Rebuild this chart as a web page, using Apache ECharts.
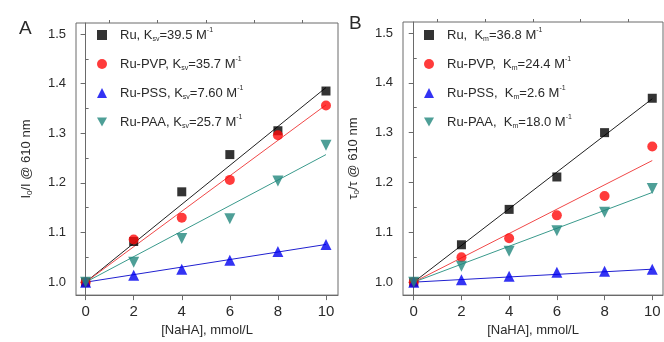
<!DOCTYPE html>
<html>
<head>
<meta charset="utf-8">
<script src="https://cdn.jsdelivr.net/npm/echarts@6/dist/echarts.min.js"></script>
<title>Stern-Volmer</title>
</head>
<body style="margin:0">
<div id="container" style="width:664px;height:342px;"></div>
<script>
// concentrations, mmol/L
var conc = [0, 2, 4, 6, 8, 10];

// panel A: I0/I
var iRu  = [1.0, 1.082, 1.182, 1.257, 1.305, 1.385];
var iPVP = [1.0, 1.086, 1.130, 1.206, 1.296, 1.356];
var iPSS = [1.0, 1.014, 1.026, 1.044, 1.062, 1.076];
var iPAA = [1.0, 1.040, 1.088, 1.128, 1.204, 1.276];
// panel B: tau0/tau
var tRu  = [1.0, 1.075, 1.146, 1.211, 1.300, 1.369];
var tPVP = [1.0, 1.050, 1.088, 1.134, 1.173, 1.272];
var tPSS = [1.0, 1.005, 1.012, 1.020, 1.022, 1.026];
var tPAA = [1.0, 1.032, 1.062, 1.103, 1.140, 1.188];

// fitted lines, value at 0 and at 10 mmol/L
var fitStart = 1.0;
var fitEndA = [1.392, 1.357, 1.076, 1.257];
var fitEndB = [1.368, 1.244, 1.026, 1.180];

var names = ['Ru', 'Ru-PVP', 'Ru-PSS', 'Ru-PAA'];
var kA = ['39.5', '35.7', '7.60', '25.7'];
var kB = ['36.8', '24.4', '2.6', '18.0'];

var xMajor = [0, 2, 4, 6, 8, 10];
var xMinor = [1, 3, 5, 7, 9];
var yMajor = [1.0, 1.1, 1.2, 1.3, 1.4, 1.5];
var yMinor = [1.05, 1.15, 1.25, 1.35, 1.45];

var colors = ['#000000', '#ff0a0a', '#0000f0', '#22877d'];
var lineColors = ['#202020', '#f04848', '#2020d0', '#3a9a8c'];
var symbols = ['rect', 'circle', 'triangle', 'triangle'];
var rotates = [0, 0, 0, 180];
var legendIcons = ['rect', 'circle', 'triangle', 'path://M0,0 L10,0 L5,9 Z'];

var font = 'Arial, "Liberation Sans", sans-serif';
var axisGray = '#6a6a6a';
var textCol = '#2a2a2a';

var myChart = echarts.init(document.getElementById('container'));

function pairs(ys) {
    return conc.map(function (x, i) { return [x, ys[i]]; });
}

function xAxes(g) {
    return [{
        gridIndex: g, type: 'value', min: g ? -0.45 : -0.4, max: g ? 10.45 : 10.5,
        name: '[NaHA], mmol/L', nameLocation: 'middle', nameGap: 25,
        nameTextStyle: { fontFamily: font, fontSize: 13, color: textCol },
        axisLine: { show: true, lineStyle: { color: axisGray } },
        axisTick: { show: true, length: 5, customValues: xMajor, lineStyle: { color: axisGray } },
        axisLabel: { customValues: xMajor, margin: 9, fontFamily: font, fontSize: 15, color: textCol },
        splitLine: { show: false }
    }, {
        gridIndex: g, type: 'value', min: g ? -0.45 : -0.4, max: g ? 10.45 : 10.5,
        axisLine: { show: false },
        axisTick: { show: true, length: 3, customValues: xMinor, lineStyle: { color: axisGray } },
        axisLabel: { show: false },
        splitLine: { show: false }
    }];
}

function yAxes(g, title) {
    return [{
        gridIndex: g, type: 'value', min: 0.974, max: 1.522,
        name: title, nameLocation: 'middle', nameRotate: 90, nameGap: g ? 42 : 42,
        nameTextStyle: {
            fontFamily: font, fontSize: 13, color: textCol,
            rich: {
                t: { fontFamily: font, fontSize: 13, color: textCol, lineHeight: 16 },
                s: { fontFamily: font, fontSize: 8, color: textCol, lineHeight: 9, verticalAlign: 'bottom' }
            }
        },
        axisLine: { show: true, lineStyle: { color: axisGray } },
        axisTick: { show: true, length: 5, customValues: yMajor, lineStyle: { color: axisGray } },
        axisLabel: {
            customValues: yMajor, margin: 10, fontFamily: font, fontSize: 13, color: textCol,
            formatter: function (v) { return v.toFixed(1); }
        },
        splitLine: { show: false }
    }, {
        gridIndex: g, type: 'value', min: 0.974, max: 1.522,
        axisLine: { show: false },
        axisTick: { show: true, length: 3, customValues: yMinor, lineStyle: { color: axisGray } },
        axisLabel: { show: false },
        splitLine: { show: false }
    }];
}

var series = [];
function addPanel(g, sets, ends, tag) {
    sets.forEach(function (ys, i) {
        series.push({
            type: 'line', xAxisIndex: g * 2, yAxisIndex: g * 2,
            data: [[0, fitStart], [10, ends[i]]],
            showSymbol: false, silent: true,
            lineStyle: { color: lineColors[i], width: 1 }, z: 2
        });
    });
    sets.forEach(function (ys, i) {
        series.push({
            name: tag + names[i], type: 'scatter', xAxisIndex: g * 2, yAxisIndex: g * 2,
            data: pairs(ys), symbol: symbols[i], symbolRotate: rotates[i],
            symbolSize: i === 0 ? 9 : (i === 1 ? 10 : 11),
            itemStyle: { color: colors[i] }, z: 3
        });
    });
}
addPanel(0, [iRu, iPVP, iPSS, iPAA], fitEndA, 'A:');
addPanel(1, [tRu, tPVP, tPSS, tPAA], fitEndB, 'B:');

var legendRich = {
    g: { width: 8, lineHeight: 16 },
    t: { fontFamily: font, fontSize: 13, color: textCol, lineHeight: 16 },
    s: { fontFamily: font, fontSize: 7, color: textCol, lineHeight: 8, verticalAlign: 'bottom' },
    p: { fontFamily: font, fontSize: 7, color: textCol, lineHeight: 8, verticalAlign: 'top' }
};

function legendFor(tag, ks, sub, sep, left) {
    return {
        orient: 'vertical', left: left, top: 22, itemGap: 13,
        itemWidth: 10, itemHeight: 10,
        data: names.map(function (n, i) { return { name: tag + n, icon: legendIcons[i] }; }),
        formatter: function (name) {
            var i = names.indexOf(name.slice(2));
            return '{g|}{t|' + names[i] + ',' + sep + 'K}{s|' + sub + '}{t|=' + ks[i] + ' M}{p|-1}';
        },
        textStyle: { rich: legendRich },
        selectedMode: false
    };
}

var option = {
    animation: false,
    grid: [
        { left: 76, top: 23, width: 262, height: 277, show: true, borderColor: axisGray, borderWidth: 1 },
        { left: 403, top: 22, width: 260, height: 278, show: true, borderColor: axisGray, borderWidth: 1 }
    ],
    xAxis: xAxes(0).concat(xAxes(1)),
    yAxis: yAxes(0, '{t|I}{s|0}{t|/I @ 610 nm}').concat(yAxes(1, '{t|τ}{s|0}{t|/τ @ 610 nm}')),
    legend: [
        legendFor('A:', kA, 'sv', ' ', 92),
        legendFor('B:', kB, 'm', '  ', 419)
    ],
    graphic: [
        { type: 'text', left: 19, top: 19, style: { text: 'A', font: '19px ' + font, fill: textCol } },
        { type: 'text', left: 349, top: 14, style: { text: 'B', font: '19px ' + font, fill: textCol } }
    ],
    series: series
};

myChart.setOption(option);
</script>
</body>
</html>
